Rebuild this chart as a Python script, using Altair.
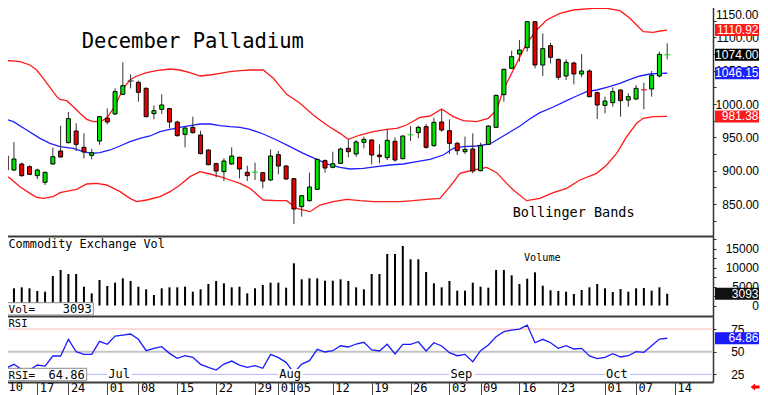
import json
import altair as alt
import pandas as pd

# ---------------- data ----------------
# trading-day slot: 0 = Jun 10 2019 ... 86 = Oct 11 2019
slot = list(range(87))
open_ = [934, 922, 901, 910, 906, 892.5, 882.5, 910, 929.5, 942,
         959.5, 935, 923, 944.5, 979, 985, 1014.5, 1034.5, 1032.5, 1023.5,
         985.5, 992, 993, 973, 954.5, 965, 953.5, 931, 910.5, 898.5,
         910, 920, 897.5, 897, 897, 886, 924, 907, 888, 846,
         855, 872, 915, 905, 911, 933.5, 925, 942.5, 946, 923.5,
         919.5, 944, 918, 953, 957, 966, 937.5, 973, 960, 941,
         928.5, 932.5, 900, 939.5, 965, 1014, 1053.5, 1075, 1084.5, 1123.5,
         1058.5, 1087.5, 1067, 1042, 1061.5, 1045, 1049.5, 1017, 998, 1002,
         1021, 1006, 1007.5, 1022.5, 1022.5, 1042, 1073.5]
high = [937, 923.5, 943, 912, 908, 903, 898.5, 934.5, 967.5, 988,
        971, 956, 933, 982, 993.5, 1023.5, 1062.5, 1044.5, 1035, 1025,
        998, 1014.5, 994, 975, 965, 981, 960, 932, 912, 918.5,
        935, 921, 907.5, 912, 897.5, 932, 929.5, 908.5, 889, 863.5,
        897, 918, 917, 928.5, 934.5, 947, 946, 951, 947, 939.5,
        962.5, 950, 952.5, 967, 967.5, 970, 979.5, 992, 977, 943.5,
        951, 956, 942, 968, 1014, 1053, 1080, 1096, 1124.5, 1124.5,
        1106, 1092, 1068, 1067, 1063.5, 1075, 1052, 1018.5, 1011, 1025,
        1022, 1016, 1028.5, 1032, 1049.5, 1078.5, 1091]
low = [922, 898, 899.5, 891, 893.5, 887.5, 878.5, 909, 919.5, 941,
       929.5, 918.5, 917, 939, 969.5, 983.5, 1013.5, 1023.5, 1003.5, 980,
       977, 985, 963.5, 951, 935, 956, 924.5, 908, 890, 884.5,
       908.5, 888.5, 884.5, 886, 873.5, 885, 894.5, 886, 820, 831,
       853.5, 871, 897, 903.5, 910, 920, 921, 933.5, 909.5, 911,
       916, 913.5, 917, 944.5, 948.5, 933, 936, 958.5, 925, 923.5,
       925, 896, 899, 938.5, 964, 1003.5, 1052.5, 1063.5, 1078.5, 1053.5,
       1042, 1061, 1036, 1036, 1029.5, 1040, 1010, 977.5, 986, 996,
       981, 996, 1006, 992, 1011, 1040, 1067]
close = [925, 901, 917.5, 892.5, 894.5, 901, 897.5, 921, 920.5, 978,
         939.5, 928, 927, 981, 973, 1018.5, 1027.5, 1034.5, 1017.5, 981,
         990, 998.5, 973, 952.5, 964, 957, 925.5, 909, 899.5, 914.5,
         922, 902.5, 892.5, 897.5, 884.5, 922, 907, 887.5, 842.5, 862.5,
         875.5, 917, 904, 910.5, 932.5, 928.5, 943, 947, 923.5, 921,
         945.5, 916, 952, 954, 965, 935, 972.5, 961, 941, 930,
         932, 899.5, 937.5, 967, 1013, 1052, 1071, 1081, 1123.5, 1058.5,
         1083, 1070, 1040, 1062.5, 1045, 1049.5, 1011, 998.5, 1004.5, 1018.5,
         1005, 1011, 1023.5, 1021.5, 1043, 1074.5, 1074]
volume = [4000, 4260, 4520, 4780, 4520, 3820, 3640, 7760, 9340, 8290,
          8290, 4950, 3200, 6710, 5130, 6000, 7150, 6450, 4950, 4260,
          2760, 4520, 4780, 4780, 4950, 3640, 4260, 5660, 6450, 5830,
          4780, 4950, 3200, 4520, 5390, 6000, 6000, 4690, 11100, 6890,
          7150, 7150, 6530, 6530, 6890, 6450, 4780, 4260, 8290, 8290,
          13550, 13550, 15660, 12160, 12160, 8820, 5840, 4780, 6450, 3900,
          3900, 6000, 4950, 4690, 9340, 9340, 7940, 5660, 7060, 8730,
          5220, 4000, 3820, 3640, 3030, 4080, 4780, 5660, 4520, 3550,
          4340, 3640, 4520, 4600, 3900, 4780, 3093]
rsi = [34.2, 32.0, 36.1, 30.4, 29.8, 35.3, 34.2, 45.3, 45.3, 63.7,
       50.0, 47.1, 47.1, 61.5, 58.2, 67.3, 68.4, 69.5, 63.7, 51.1,
       53.7, 55.5, 48.2, 42.7, 45.6, 43.8, 36.1, 32.8, 29.8, 36.4,
       39.7, 35.3, 32.8, 34.6, 31.7, 47.1, 43.4, 38.3, 26.5, 36.4,
       40.1, 52.6, 49.7, 51.1, 56.6, 55.2, 58.5, 60.4, 51.9, 50.8,
       58.2, 47.5, 58.2, 58.2, 61.0, 50.8, 59.9, 56.3, 48.9, 45.6,
       47.1, 39.0, 51.1, 57.4, 66.5, 72.1, 73.9, 75.0, 79.4, 59.9,
       63.7, 59.9, 53.7, 56.6, 53.0, 53.7, 45.3, 42.3, 43.8, 47.8,
       44.2, 45.6, 50.0, 49.3, 56.6, 64.0, 64.86]

upper_slot = [0.21, 1.49, 2.78, 4.06, 4.92, 5.77, 6.63, 7.5, 7.92, 8.78, 9.63, 10.49, 11.35, 12.2,
              13.06, 13.93, 14.99, 16.06, 16.92, 17.78, 19.07, 20.35, 22.07, 23.35, 24.64, 25.92,
              27.21, 28.49, 29.78, 31.07, 32.35, 34.06, 35.35, 37.07, 38.78, 40.49, 42.21, 43.92,
              44.99, 46.5, 48.21, 49.93, 51.22, 52.5, 54.21, 55.5, 57.0, 58.49, 59.78, 61.5, 62.99,
              64.07, 64.92, 66.43, 67.93, 69.22, 70.5, 72.21, 73.92, 76.49, 78.22, 79.93, 81.21,
              82.07, 82.92, 84.21, 85.07, 86.0]
upper_val = [1063.5, 1065, 1063.5, 1058.5, 1051, 1038.5, 1025, 1011, 1007, 1005, 996, 986, 977, 973.5,
             973.5, 978.5, 997, 1023.5, 1036, 1042, 1047, 1050, 1052.5, 1051, 1047, 1042,
             1043.5, 1046, 1048.5, 1050, 1051, 1051, 1038.5, 1014.5, 1001, 983.5, 968.5, 956,
             947, 953.5, 958.5, 962, 963.5, 968.5, 980, 982, 992.5, 981, 975, 973.5, 978.5,
             991, 1021, 1056, 1091, 1111, 1126, 1136, 1141, 1143.5, 1143.5, 1140, 1128.5,
             1118.5, 1108.5, 1107.5, 1109.5, 1110.92]
mid_slot = [0.21, 1.92, 3.64, 5.35, 6.63, 7.92, 9.63, 10.92, 11.99, 13.06, 14.35, 15.64, 16.92, 18.21,
            19.49, 20.78, 22.07, 23.35, 24.64, 25.92, 27.21, 28.49, 29.78, 31.07, 32.35, 34.06,
            35.78, 37.5, 39.21, 40.93, 42.64, 43.92, 45.21, 46.92, 48.64, 50.35, 52.06, 53.78,
            55.5, 57.21, 58.49, 59.78, 61.5, 63.21, 64.5, 65.78, 67.07, 68.36, 69.64, 71.35,
            73.07, 74.36, 75.65, 76.93, 78.22, 79.93, 81.21, 82.5, 83.78, 85.07, 86.0]
mid_val = [980, 973.5, 961, 948.5, 941, 936, 933.5, 928.5, 926, 927, 931, 937, 943.5, 948.5,
           952, 958.5, 962, 965, 967.5, 970, 970, 967.5, 966, 965, 962, 955,
           946, 936, 926, 917, 908.5, 905, 902.5, 903.5, 906, 908.5, 910, 913.5,
           917, 923.5, 933.5, 936, 937, 940, 949, 958, 967, 978, 987, 995.5,
           1005, 1012, 1018.5, 1021, 1025, 1031, 1037, 1042, 1045, 1046, 1046.15]
low_slot = [0.21, 1.49, 2.78, 4.06, 4.92, 5.77, 7.06, 7.92, 9.21, 10.07, 11.35, 12.64, 13.93, 15.64,
            16.92, 17.78, 19.07, 20.78, 22.07, 23.35, 24.64, 25.92, 27.21, 28.49, 29.78, 31.07,
            32.35, 34.06, 35.78, 37.07, 38.35, 40.07, 41.35, 43.06, 44.79, 46.5, 48.21, 49.93,
            51.64, 53.35, 55.07, 56.78, 58.07, 59.35, 61.07, 62.79, 64.07, 65.36, 66.21, 67.93,
            69.64, 71.35, 73.07, 74.78, 76.93, 78.22, 79.5, 80.79, 82.07, 82.92, 84.21, 86.0]
low_val = [898.5, 888.5, 876, 866, 860, 858.5, 861, 867, 870, 872, 880, 881, 878.5, 868.5,
           858.5, 853.5, 856, 861, 868.5, 878.5, 891, 898.5, 895, 891, 886, 881,
           873.5, 856, 855, 855, 843.5, 838.5, 848.5, 853.5, 857, 855, 853.5, 853.5,
           853.5, 855, 857, 858.5, 876, 896, 901, 905, 897, 881, 871, 855,
           858.5, 867, 873.5, 886, 896, 908.5, 926, 951, 971, 978.5, 981, 981.38]

tick_slots = [5, 9, 14, 18, 23, 28, 33, 36, 38, 43, 48, 53, 58, 62, 67, 72, 78, 82, 87]
tick_labels = ["17", "24", "01", "08", "15", "22", "29", "01", "05", "12",
               "19", "26", "03", "09", "16", "23", "01", "07", "14"]
first_day_label = "10"
month_slots = [14, 36, 58, 78]
month_names = ["Jul", "Aug", "Sep", "Oct"]
top_price_tick = [1150]

title_text = "December Palladium"
bands_text = "Bollinger Bands"

# ---------------- scales / styles ----------------
FONT = "DejaVu Sans Mono"
NUMFONT = "Liberation Sans"
X_DOMAIN = [0.206, 91.89]
PRICE_DOMAIN = [802, 1156]
VOL_DOMAIN = [-2763, 18290]
RSI_DOMAIN = [16.6, 89.4]
W = 713
TAG_X = 737      # centre of the value tags right of the axis
TAG_R = 758.5    # right edge of tag / label text
GUARD = 6        # a hidden 1px square placed GUARD px above/left of the plot fixes the layout origin
LEFT_TXT = 1.3   # slot where the left-hand panel captions start (kept inside the visible page)

xsc = alt.Scale(domain=X_DOMAIN, nice=False, zero=False, padding=0)
sep_axis = alt.Axis(labels=False, ticks=False, domain=True, domainColor="#3a3a3a",
                    domainWidth=2, grid=False, title=None)
labels_arr = [""] * 92
for s, l in zip(tick_slots, tick_labels):
    labels_arr[s] = l
date_axis = alt.Axis(values=tick_slots, labelExpr=json.dumps(labels_arr) + "[datum.value]",
                     tickSize=13, tickColor="#444", domainColor="#3a3a3a", domainWidth=2,
                     labelAlign="left", labelBaseline="top", labelPadding=-13, labelOffset=2,
                     labelFont=FONT, labelFontSize=12, labelColor="black",
                     labelOverlap=False, labelFlush=False, grid=False, title=None)

def right_axis(values, expr, pad, align="right"):
    return alt.Axis(orient="right", values=values, labelExpr=expr, tickSize=3, tickColor="#333",
                    domainColor="#333", domainWidth=1.5, labelFont=NUMFONT, labelFontSize=12,
                    labelColor="black", labelAlign=align, labelPadding=pad, labelOverlap=False,
                    labelFlush=False, grid=False, title=None)

price_axis = right_axis(list(range(825, 1151, 25)),
                        "datum.value % 50 == 0 && datum.value < 1150 ? format(datum.value, '.2f') : ''",
                        42.5)
vol_axis = right_axis(list(range(0, 17501, 2500)),
                      "datum.value % 5000 == 0 ? format(datum.value, 'd') : ''", 42.5)
rsi_axis = right_axis([25, 50, 75], "format(datum.value, 'd')", 28)

psc = alt.Scale(domain=PRICE_DOMAIN, nice=False, zero=False, padding=0)
vsc = alt.Scale(domain=VOL_DOMAIN, nice=False, zero=False, padding=0)
rsc = alt.Scale(domain=RSI_DOMAIN, nice=False, zero=False, padding=0)

color_scale = alt.Scale(domain=["up", "down", "flat", "upper", "mid", "lower", "close"],
                        range=["#00e600", "#e60000", "#333333", "#ff1a1a", "#1f1fff", "#ff1a1a", "#000000"])

# ---------------- tables ----------------
df = pd.DataFrame(dict(slot=slot, open=open_, high=high, low=low, close=close,
                       volume=volume, rsi=rsi))
df["dir"] = ["up" if c > o else ("down" if c < o else "flat") for o, c in zip(open_, close)]
df["doji"] = [abs(c - o) < 1.5 for o, c in zip(open_, close)]

bands = pd.concat([
    pd.DataFrame(dict(slot=upper_slot, val=upper_val, band="upper")),
    pd.DataFrame(dict(slot=mid_slot, val=mid_val, band="mid")),
    pd.DataFrame(dict(slot=low_slot, val=low_val, band="lower")),
])
last_boxes = pd.DataFrame(dict(price=[upper_val[-1], close[-1], mid_val[-1], low_val[-1]],
                               kind=["upper", "close", "mid", "lower"]))

X = alt.X("slot:Q", scale=xsc, axis=sep_axis, title=None)

# ---------------- price panel ----------------
px_per_slot = W / (X_DOMAIN[1] - X_DOMAIN[0])
px_per_price = 236 / (PRICE_DOMAIN[1] - PRICE_DOMAIN[0])
guard_df = pd.DataFrame(dict(
    slot=[X_DOMAIN[0] - GUARD / px_per_slot], slot2=[X_DOMAIN[0] - (GUARD - 1) / px_per_slot],
    price=[PRICE_DOMAIN[1] + GUARD / px_per_price], price2=[PRICE_DOMAIN[1] + (GUARD - 1) / px_per_price]))
guard = alt.Chart(guard_df).mark_rect(fill="white").encode(
    x=X, x2="slot2:Q", y=alt.Y("price:Q", scale=psc, axis=price_axis, title=None), y2="price2:Q")
band_lines = alt.Chart(bands).mark_line(strokeWidth=1.3, clip=True).encode(
    x=X, y=alt.Y("val:Q", scale=psc, axis=price_axis, title=None),
    color=alt.Color("band:N", scale=color_scale, legend=None), order="slot:Q")
wicks = alt.Chart(df).mark_rule(color="#333", strokeWidth=1, clip=True).encode(
    x=X, y=alt.Y("low:Q", scale=psc, axis=price_axis, title=None), y2="high:Q")
bodies = alt.Chart(df).transform_filter("!datum.doji").mark_bar(
    size=4, stroke="black", strokeWidth=1, clip=True).encode(
    x=X, y=alt.Y("open:Q", scale=psc, axis=price_axis, title=None), y2="close:Q",
    color=alt.Color("dir:N", scale=color_scale, legend=None))
dojis = alt.Chart(df).transform_filter("datum.doji").mark_tick(
    orient="horizontal", size=6, thickness=1.5, clip=True).encode(
    x=X, y=alt.Y("close:Q", scale=psc, axis=price_axis, title=None),
    color=alt.Color("dir:N", scale=color_scale, legend=None))
texts_price = alt.Chart(pd.DataFrame(dict(
    slot=[10.71], price=[1084.5], text=[title_text]))).mark_text(
    align="left", baseline="alphabetic", font=FONT, fontSize=20.5, color="black").encode(
    x=X, y=alt.Y("price:Q", scale=psc, axis=price_axis, title=None), text="text:N")
texts_bb = alt.Chart(pd.DataFrame(dict(
    slot=[66.13], price=[830], text=[bands_text]))).mark_text(
    align="left", baseline="alphabetic", font=FONT, fontSize=13.5, color="black").encode(
    x=X, y=alt.Y("price:Q", scale=psc, axis=price_axis, title=None), text="text:N")
top_lbl = alt.Chart(pd.DataFrame(dict(price=top_price_tick))).mark_text(
    align="right", baseline="middle", font=NUMFONT, fontSize=12, color="black", dy=11).encode(
    x=alt.value(TAG_R), y=alt.Y("price:Q", scale=psc, axis=price_axis, title=None),
    text=alt.Text("price:Q", format=".2f"))
box_bg = alt.Chart(last_boxes).mark_tick(orient="horizontal", size=44, thickness=12, opacity=1).encode(
    x=alt.value(TAG_X), y=alt.Y("price:Q", scale=psc, axis=price_axis, title=None),
    color=alt.Color("kind:N", scale=color_scale, legend=None))
box_txt = alt.Chart(last_boxes).mark_text(align="right", baseline="middle", font=NUMFONT,
                                          fontSize=12, color="white").encode(
    x=alt.value(TAG_R), y=alt.Y("price:Q", scale=psc, axis=price_axis, title=None),
    text=alt.Text("price:Q", format=".2f"))
price = alt.layer(guard, band_lines, wicks, bodies, dojis, texts_price, texts_bb, top_lbl, box_bg, box_txt
                  ).properties(width=W, height=236)

# ---------------- volume panel ----------------
vol_bars = alt.Chart(df).mark_rule(strokeWidth=2, color="black", clip=True).encode(
    x=X, y=alt.Y("volume:Q", scale=vsc, axis=vol_axis, title=None), y2=alt.datum(0))
vol_lbl = pd.DataFrame(dict(slot=[LEFT_TXT, 67.58], v=[15050, 11790],
                            text=["Commodity Exchange Vol", "Volume"]))
vol_text1 = alt.Chart(vol_lbl.iloc[[0]]).mark_text(align="left", baseline="alphabetic", font=FONT,
                                                  fontSize=11.8, color="black").encode(
    x=X, y=alt.Y("v:Q", scale=vsc, axis=vol_axis, title=None), text="text:N")
vol_text2 = alt.Chart(vol_lbl.iloc[[1]]).mark_text(align="left", baseline="alphabetic", font=FONT,
                                                  fontSize=10.2, color="black").encode(
    x=X, y=alt.Y("v:Q", scale=vsc, axis=vol_axis, title=None), text="text:N")
vbox = pd.DataFrame(dict(slot=[0.206], slot2=[12.2], v=[737], v2=[-2500]))
vol_box = alt.Chart(vbox).mark_rect(fill="white", stroke="#8a8a8a", strokeWidth=1).encode(
    x=X, x2="slot2:Q", y=alt.Y("v:Q", scale=vsc, axis=vol_axis, title=None), y2="v2:Q")
vol_last = pd.DataFrame(dict(slot=[LEFT_TXT], slot_r=[12.0], v=[-1974], value=[volume[-1]],
                             lbl=["Vol="]))
vol_box_l = alt.Chart(vol_last).mark_text(align="left", baseline="alphabetic", font=FONT,
                                          fontSize=11, color="black").encode(
    x=X, y=alt.Y("v:Q", scale=vsc, axis=vol_axis, title=None), text="lbl:N")
vol_box_r = alt.Chart(vol_last).mark_text(align="right", baseline="alphabetic", font=FONT,
                                          fontSize=12, color="black").encode(
    x=alt.X("slot_r:Q", scale=xsc, axis=sep_axis, title=None),
    y=alt.Y("v:Q", scale=vsc, axis=vol_axis, title=None), text=alt.Text("value:Q", format="d"))
vol_tag_bg = alt.Chart(vol_last).mark_tick(orient="horizontal", size=44, thickness=12,
                                           color="#111", opacity=1).encode(
    x=alt.value(TAG_X), y=alt.Y("value:Q", scale=vsc, axis=vol_axis, title=None))
vol_tag_tx = alt.Chart(vol_last).mark_text(align="right", baseline="middle", font=NUMFONT,
                                           fontSize=12, color="white").encode(
    x=alt.value(TAG_R), y=alt.Y("value:Q", scale=vsc, axis=vol_axis, title=None),
    text=alt.Text("value:Q", format="d"))
vol = alt.layer(vol_bars, vol_box, vol_box_l, vol_box_r, vol_text1, vol_text2, vol_tag_bg, vol_tag_tx
                ).properties(width=W, height=80)

# ---------------- RSI panel ----------------
XD = alt.X("slot:Q", scale=xsc, axis=date_axis, title=None)
levels = pd.DataFrame(dict(level=[75, 50, 25]))
def level_rule(lv, col, w):
    return alt.Chart(levels).transform_filter(f"datum.level == {lv}").mark_rule(
        color=col, strokeWidth=w).encode(y=alt.Y("level:Q", scale=rsc, axis=rsi_axis, title=None))
rsi_line = alt.Chart(df).mark_line(color="#1a1aff", strokeWidth=1.3, clip=True).encode(
    x=XD, y=alt.Y("rsi:Q", scale=rsc, axis=rsi_axis, title=None))
months = pd.DataFrame(dict(slot=month_slots, name=month_names))
months["slot_end"] = months["slot"] + 3.2
month_bg = alt.Chart(months).mark_rect(fill="white").encode(
    x=XD, x2="slot_end:Q", y=alt.Y(datum=30.9, scale=rsc, axis=rsi_axis, title=None), y2=alt.datum(18.6))
month_tx = alt.Chart(months).mark_text(align="left", baseline="alphabetic", font=FONT, fontSize=12,
                                       color="black", dx=1).encode(
    x=XD, y=alt.Y(datum=21, scale=rsc, axis=rsi_axis, title=None), text="name:N")
rsi_lbl = alt.Chart(pd.DataFrame(dict(slot=[LEFT_TXT], r=[76.9], t=["RSI"]))).mark_text(
    align="left", baseline="alphabetic", font=FONT, fontSize=10.5, color="black").encode(
    x=XD, y=alt.Y("r:Q", scale=rsc, axis=rsi_axis, title=None), text="t:N")
rbox = pd.DataFrame(dict(slot=[0.206], slot2=[11.35], r=[31.7], r2=[18.0]))
rsi_box = alt.Chart(rbox).mark_rect(fill="white", stroke="#8a8a8a", strokeWidth=1).encode(
    x=XD, x2="slot2:Q", y=alt.Y("r:Q", scale=rsc, axis=rsi_axis, title=None), y2="r2:Q")
rsi_last = pd.DataFrame(dict(slot=[LEFT_TXT], slot_r=[11.1], r=[19.9], value=[rsi[-1]], lbl=["RSI="]))
rsi_box_l = alt.Chart(rsi_last).mark_text(align="left", baseline="alphabetic", font=FONT,
                                          fontSize=11, color="black").encode(
    x=XD, y=alt.Y("r:Q", scale=rsc, axis=rsi_axis, title=None), text="lbl:N")
rsi_box_r = alt.Chart(rsi_last).mark_text(align="right", baseline="alphabetic", font=FONT,
                                          fontSize=12, color="black").encode(
    x=alt.X("slot_r:Q", scale=xsc, axis=date_axis, title=None),
    y=alt.Y("r:Q", scale=rsc, axis=rsi_axis, title=None), text=alt.Text("value:Q", format=".2f"))
first_lbl = alt.Chart(pd.DataFrame(dict(slot=[LEFT_TXT], t=[first_day_label]))).mark_text(
    align="left", baseline="top", font=FONT, fontSize=12, color="black", dy=0).encode(
    x=XD, y=alt.Y(datum=RSI_DOMAIN[0], scale=rsc, axis=rsi_axis, title=None), text="t:N")
rsi_tag_bg = alt.Chart(rsi_last).mark_tick(orient="horizontal", size=44, thickness=12,
                                           color="#1a1aff", opacity=1).encode(
    x=alt.value(TAG_X), y=alt.Y("value:Q", scale=rsc, axis=rsi_axis, title=None))
rsi_tag_tx = alt.Chart(rsi_last).mark_text(align="right", baseline="middle", font=NUMFONT,
                                           fontSize=12, color="white").encode(
    x=alt.value(TAG_R), y=alt.Y("value:Q", scale=rsc, axis=rsi_axis, title=None),
    text=alt.Text("value:Q", format=".2f"))
arrow_shape = "M-1,0 L0,-0.8 L0,-0.35 L1,-0.35 L1,0.35 L0,0.35 L0,0.8 Z"
arrow = alt.Chart(pd.DataFrame(dict(slot=[97.3], r=[11.1]))).mark_point(
    shape=arrow_shape, filled=True, color="#ff0000", size=80, opacity=1).encode(
    x=XD, y=alt.Y("r:Q", scale=rsc, axis=rsi_axis, title=None))
rsi_c = alt.layer(level_rule(75, "#ffb4b4", 1), level_rule(50, "#c4c4c4", 2),
                  level_rule(25, "#b4b4ff", 1), rsi_line, month_bg, month_tx, rsi_lbl,
                  rsi_box, rsi_box_l, rsi_box_r, first_lbl, rsi_tag_bg, rsi_tag_tx, arrow
                  ).properties(width=W, height=66)

chart = alt.vconcat(price, vol, rsi_c, spacing=0, bounds="flush").properties(
    padding={"left": -8 - GUARD, "top": -8 - GUARD, "right": 0, "bottom": 0}, background="white"
).configure_view(stroke=None)

chart.save("out.html", embed_options={"renderer": "svg", "actions": False})
